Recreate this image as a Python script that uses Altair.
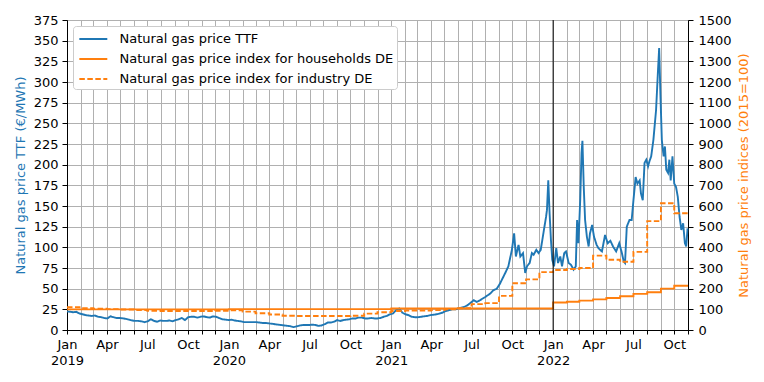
import altair as alt
import pandas as pd

# ---------------- data ----------------
ttf_dates = [
    "2019-01-01", "2019-01-08", "2019-01-15", "2019-01-22", "2019-01-29", "2019-02-05", "2019-02-12",
    "2019-02-19", "2019-02-26", "2019-03-05", "2019-03-12", "2019-03-19", "2019-03-26", "2019-04-02",
    "2019-04-09", "2019-04-16", "2019-04-23", "2019-04-30", "2019-05-07", "2019-05-14", "2019-05-21",
    "2019-05-28", "2019-06-04", "2019-06-11", "2019-06-18", "2019-06-25", "2019-07-02", "2019-07-09",
    "2019-07-16", "2019-07-23", "2019-07-30", "2019-08-06", "2019-08-13", "2019-08-20", "2019-08-27",
    "2019-09-03", "2019-09-10", "2019-09-17", "2019-09-24", "2019-10-01", "2019-10-08", "2019-10-15",
    "2019-10-22", "2019-10-29", "2019-11-05", "2019-11-12", "2019-11-19", "2019-11-26", "2019-12-03",
    "2019-12-10", "2019-12-17", "2019-12-24", "2019-12-31",
    "2020-01-07", "2020-01-14", "2020-01-21", "2020-01-28", "2020-02-04", "2020-02-11", "2020-02-18",
    "2020-02-25", "2020-03-03", "2020-03-10", "2020-03-17", "2020-03-24", "2020-03-31", "2020-04-07",
    "2020-04-14", "2020-04-21", "2020-04-28", "2020-05-05", "2020-05-12", "2020-05-19", "2020-05-26",
    "2020-06-02", "2020-06-09", "2020-06-16", "2020-06-23", "2020-06-30", "2020-07-07", "2020-07-14",
    "2020-07-21", "2020-07-28", "2020-08-04", "2020-08-11", "2020-08-18", "2020-08-25", "2020-09-01",
    "2020-09-08", "2020-09-15", "2020-09-22", "2020-09-29", "2020-10-06", "2020-10-13", "2020-10-20",
    "2020-10-27", "2020-11-03", "2020-11-10", "2020-11-17", "2020-11-24", "2020-12-01", "2020-12-08",
    "2020-12-15", "2020-12-22", "2020-12-29",
    "2021-01-05", "2021-01-12", "2021-01-19", "2021-01-26", "2021-02-02", "2021-02-09", "2021-02-16",
    "2021-02-23", "2021-03-02", "2021-03-09", "2021-03-16", "2021-03-23", "2021-03-30", "2021-04-06",
    "2021-04-13", "2021-04-20", "2021-04-27", "2021-05-04", "2021-05-11", "2021-05-18", "2021-05-25",
    "2021-06-01", "2021-06-08", "2021-06-15", "2021-06-22", "2021-06-29", "2021-07-06", "2021-07-13",
    "2021-07-20", "2021-08-01", "2021-08-12", "2021-08-19", "2021-08-27", "2021-09-03", "2021-09-15",
    "2021-09-22", "2021-09-30", "2021-10-05", "2021-10-09", "2021-10-15", "2021-10-19", "2021-10-25",
    "2021-10-30", "2021-11-03", "2021-11-09", "2021-11-14", "2021-11-18", "2021-11-24", "2021-11-29",
    "2021-12-04", "2021-12-10", "2021-12-16", "2021-12-18", "2021-12-21", "2021-12-24", "2021-12-27",
    "2021-12-30",
    "2022-01-03", "2022-01-08", "2022-01-12", "2022-01-17", "2022-01-21", "2022-01-26", "2022-01-30",
    "2022-02-05", "2022-02-10", "2022-02-16", "2022-02-21", "2022-02-24", "2022-02-27", "2022-03-03",
    "2022-03-06", "2022-03-08", "2022-03-11", "2022-03-14", "2022-03-18", "2022-03-22", "2022-03-25",
    "2022-03-30", "2022-04-03", "2022-04-09", "2022-04-13", "2022-04-21", "2022-04-28", "2022-05-04",
    "2022-05-10", "2022-05-16", "2022-05-23", "2022-05-30", "2022-06-05", "2022-06-09", "2022-06-12",
    "2022-06-16", "2022-06-22", "2022-06-27", "2022-07-01", "2022-07-06", "2022-07-10", "2022-07-15",
    "2022-07-18", "2022-07-22", "2022-07-26", "2022-07-30", "2022-08-03", "2022-08-06", "2022-08-10",
    "2022-08-15", "2022-08-21", "2022-08-25", "2022-08-28", "2022-08-31", "2022-09-03", "2022-09-07",
    "2022-09-10", "2022-09-13", "2022-09-17", "2022-09-20", "2022-09-23", "2022-09-27", "2022-10-01",
    "2022-10-05", "2022-10-09", "2022-10-13", "2022-10-17", "2022-10-21", "2022-10-25", "2022-10-28",
    "2022-10-31",
]
ttf_values = [
    22.5, 22, 21.5, 22, 20, 19, 18, 17.5, 17, 17.5, 16, 15.5, 14.5, 14,
    16.5, 15.5, 14.5, 14.5, 14, 13.5, 12.5, 11.5, 11, 11, 10.5, 9.5, 10.5, 13,
    11, 10, 11.5, 11, 11, 11.5, 10.5, 12, 13, 14.5, 12, 15.5, 16, 16,
    15, 16, 16.5, 15.5, 15, 16.5, 16, 14.5, 13, 12.5, 12,
    12.5, 11.5, 11, 10.5, 9.5, 9.5, 9.5, 9.5, 9.5, 9, 8.5, 8.5, 8, 7.5,
    7, 6.5, 6, 5.5, 5, 4.5, 3.5, 4.5, 5.5, 6, 6, 6, 6.5, 6,
    5, 5.5, 7, 9, 9, 10, 12, 11, 12, 12.5, 13, 14, 14, 15,
    15, 14, 14, 14.5, 14, 14, 14.5, 16, 17, 19,
    20, 24, 26, 21, 19, 18, 16, 15.5, 15.5, 16, 16.5, 17, 18, 18.5,
    19, 20, 21, 23, 24, 25, 25, 26, 27, 28, 30, 33, 36, 34,
    36, 40, 44, 48, 50, 56, 69, 77, 97, 117, 89, 103, 89, 93,
    69, 77, 81, 93, 91, 97, 93, 97, 117, 137, 145, 181, 141, 109,
    85,
    77, 99, 81, 89, 77, 93, 95, 81, 79, 73, 77, 133, 105, 157,
    214, 229, 173, 133, 113, 101, 117, 127, 113, 103, 99, 95, 115, 105,
    108, 101, 95, 105, 93, 83, 81, 125, 133, 133, 157, 185, 177, 181,
    165, 157, 202, 206, 198, 204, 210, 230, 266, 310, 341, 282, 230, 210,
    222, 194, 190, 206, 181, 210, 177, 173, 161, 137, 121, 129, 105, 101,
    123,
]

index_months = [f"{y}-{m:02d}-01" for y in (2019, 2020, 2021) for m in range(1, 13)] + \
    [f"2022-{m:02d}-01" for m in range(1, 12)]
households_values = [
    100, 100, 100, 100, 100, 100, 100, 100, 100, 100, 100, 100,
    101, 101, 101, 101, 101, 101, 101, 101, 101, 101, 101, 101,
    104, 104, 104, 104, 104, 104, 104, 104, 104, 104, 104, 104,
    133, 137, 142, 148, 155, 163, 175, 183, 200, 214, 214,
]
industry_values = [
    110, 106, 103, 101, 99, 97, 93, 92, 92, 92, 92, 93,
    95, 89, 81, 75, 69, 68, 68, 68, 68, 69, 79, 86,
    92, 94, 94, 96, 100, 105, 125, 130, 165, 226, 245, 280,
    290, 295, 300, 360, 340, 330, 378, 527, 613, 565, 565,
]

SERIES = [
    "Natural gas price TTF",
    "Natural gas price index for households DE",
    "Natural gas price index for industry DE",
]
COLORS = ["#1f77b4", "#ff7f0e", "#ff7f0e"]
DASHES = [[1, 0], [1, 0], [5.5, 2.5]]

ttf_df = pd.DataFrame({"date": ttf_dates, "value": ttf_values, "series": SERIES[0]})
idx_df = pd.concat([
    pd.DataFrame({"date": index_months, "value": households_values, "series": SERIES[1]}),
    pd.DataFrame({"date": index_months, "value": industry_values, "series": SERIES[2]}),
])
rule_df = pd.DataFrame({"date": ["2022-01-01"]})

month_ticks = [alt.DateTime(year=y, month=m, date=1, utc=True)
               for y in (2019, 2020, 2021, 2022) for m in range(1, 13)
               if not (y == 2022 and m > 11)]

label_expr = ("utcmonth(datum.value) % 3 == 0 ? (utcmonth(datum.value) == 0 ? "
              "[utcFormat(datum.value, '%b'), utcFormat(datum.value, '%Y')] : "
              "utcFormat(datum.value, '%b')) : ''")

x_enc = alt.X(
    "date:T",
    scale=alt.Scale(type="utc",
                    domain=[alt.DateTime(year=2019, month=1, date=1, utc=True),
                            alt.DateTime(year=2022, month=11, date=1, utc=True)]),
    axis=alt.Axis(values=month_ticks, labelExpr=label_expr, title=None, grid=True,
                  labelOverlap=False, labelFlush=False, labelLineHeight=16,
                  tickSize=4, labelPadding=4),
)

legend_spec = dict(title=None, orient="none", legendX=6, legendY=6,
                   symbolType="M-0.77,0H2.46", symbolSize=300, symbolStrokeWidth=2,
                   labelFontSize=13, labelLimit=500, labelOffset=23.5,
                   strokeColor="#cccccc", fillColor="white", padding=3,
                   cornerRadius=3, rowPadding=3)

color_enc = alt.Color("series:N", scale=alt.Scale(domain=SERIES, range=COLORS),
                      legend=alt.Legend(**legend_spec))
dash_enc = alt.StrokeDash("series:N", scale=alt.Scale(domain=SERIES, range=DASHES),
                          legend=alt.Legend(**legend_spec))

ttf_line = alt.Chart(ttf_df).mark_line(strokeWidth=1.9).encode(
    x=x_enc,
    y=alt.Y("value:Q",
            scale=alt.Scale(domain=[0, 375], nice=False, zero=True),
            axis=alt.Axis(values=list(range(0, 376, 25)), title="Natural gas price TTF (€/MWh)",
                          titleColor="#1f77b4", titleFontWeight="normal", titleFontSize=13,
                          tickSize=5, labelPadding=4, titlePadding=6, grid=True, orient="left")),
    color=color_enc,
    strokeDash=dash_enc,
)

idx_line = alt.Chart(idx_df).mark_line(strokeWidth=1.9, interpolate="step-after").encode(
    x=x_enc,
    y=alt.Y("value:Q",
            scale=alt.Scale(domain=[0, 1500], nice=False, zero=True),
            axis=alt.Axis(values=list(range(0, 1501, 100)), format="d",
                          title="Natural gas price indices (2015=100)",
                          titleColor="#ff7f0e", titleFontWeight="normal", titleFontSize=13,
                          titleAngle=270, titleBaseline="top",
                          tickSize=5, labelPadding=5, titlePadding=6, grid=False, orient="right")),
    color=color_enc,
    strokeDash=dash_enc,
)

rule = alt.Chart(rule_df).mark_rule(color="black", strokeWidth=1).encode(x=x_enc)

chart = alt.layer(ttf_line, idx_line, rule).resolve_scale(y="independent").properties(
    width=621, height=310,
    autosize=alt.AutoSizeParams(type="none"),
    padding={"left": 59, "top": 12, "right": 68, "bottom": 44},
).configure(font="DejaVu Sans").configure_axis(
    labelFontSize=13, labelColor="black", domainColor="black", tickColor="black",
    gridColor="#b0b0b0", gridWidth=1, labelFont="DejaVu Sans", titleFont="DejaVu Sans",
).configure_view(stroke="black", strokeWidth=1).configure_legend(
    labelFont="DejaVu Sans",
)

chart.save("out.html", embed_options={"renderer": "svg", "actions": False})
